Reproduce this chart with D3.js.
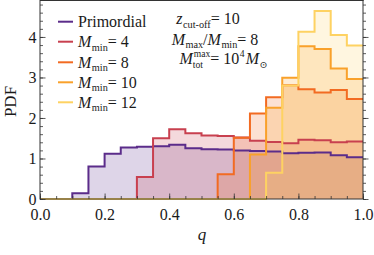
<!DOCTYPE html>
<html>
<head>
<meta charset="utf-8">
<script src="https://cdn.jsdelivr.net/npm/d3@7"></script>
<style>
html,body{margin:0;padding:0;background:#fff;}
svg{display:block;}
text{font-family:"Liberation Serif","DejaVu Serif",serif;fill:#1a1a1a;}
</style>
</head>
<body>
<svg id="chart" width="374" height="255"></svg>
<script>
// ---- data (bin width 0.05, bins from 0.0 to 1.0) ----
const binEdges = d3.range(0, 21).map(i => i * 0.05);
const primordial = [0, 0, 0.14, 0.80, 1.12, 1.27, 1.29, 1.30, 1.34, 1.25, 1.23, 1.22, 1.20, 1.185, 1.17, 1.13, 1.14, 1.15, 1.08, 1.03];
const mmin4  = [0, 0, 0, 0, 0, 0, 0.54, 1.50, 1.72, 1.62, 1.57, 1.555, 1.52, 1.44, 1.41, 1.375, 1.46, 1.45, 1.40, 1.42];
const mmin8  = [0, 0, 0, 0, 0, 0, 0, 0, 0, 0, 0, 0.61, 1.51, 2.11, 2.51, 2.81, 2.71, 2.63, 2.69, 2.47];
const mmin10 = [0, 0, 0, 0, 0, 0, 0, 0, 0, 0, 0, 0, 0, 1.10, 2.25, 2.99, 3.77, 3.70, 3.22, 2.96];
const mmin12 = [0, 0, 0, 0, 0, 0, 0, 0, 0, 0, 0, 0, 0, 0, 0.65, 2.80, 4.13, 4.64, 4.05, 3.79];
const seriesNames = ["Primordial", "4", "8", "10", "12"];
const seriesValues = [primordial, mmin4, mmin8, mmin10, mmin12];
const seriesColors = ["#5b2c8a", "#c8404f", "#f26b22", "#f9a12b", "#fed262"];
const xTickValues = [0, 0.2, 0.4, 0.6, 0.8, 1.0];
const xTickLabels = ["0.0", "0.2", "0.4", "0.6", "0.8", "1.0"];
const yTickValues = [0, 1, 2, 3, 4];
const yTickLabels = ["0", "1", "2", "3", "4"];

// ---- layout ----
const svg = d3.select("#chart");
const L = 40, R = 363, T = 0.5, B = 199;
const x = d3.scaleLinear().domain([0, 1]).range([L, R]);
const y = d3.scaleLinear().domain([0, 4.9]).range([B, T]);

const fillG = svg.append("g");
const lineG = svg.append("g");

seriesValues.forEach((vals, si) => {
  const pts = vals.map((v, i) => ({x: binEdges[i], v}));
  pts.push({x: binEdges[vals.length], v: vals[vals.length - 1]});
  const area = d3.area().curve(d3.curveStepAfter)
    .x(d => x(d.x)).y0(y(0)).y1(d => y(d.v));
  const line = d3.line().curve(d3.curveStepAfter)
    .x(d => x(d.x)).y(d => y(d.v));
  fillG.append("path").attr("d", area(pts))
    .attr("fill", seriesColors[si]).attr("fill-opacity", 0.2).attr("stroke", "none");
  lineG.append("path").attr("d", line(pts))
    .attr("fill", "none").attr("stroke", seriesColors[si]).attr("stroke-width", 2)
    .attr("stroke-linejoin", "miter");
});

// ---- axes (inward ticks on all four sides) ----
const frameColor = "#333";
function styleAxis(g) {
  g.select(".domain").remove();
  g.selectAll("line").attr("stroke", frameColor).attr("stroke-width", 0.8);
  g.selectAll("text").attr("fill", "#1a1a1a").style("font-family", '"Liberation Serif",serif').style("font-size", "16px");
}
const xMinor = x.ticks(20);
const yMinor = d3.range(0, 4.9, 0.2);

function addX(axisFn, ty, labels) {
  svg.append("g").attr("transform", `translate(0,${ty})`)
    .call(axisFn(x).tickValues(xMinor).tickSize(ty === B ? -3 : 3).tickFormat(""))
    .call(styleAxis);
  svg.append("g").attr("transform", `translate(0,${ty})`)
    .call(axisFn(x).tickValues(xTickValues).tickSizeInner(ty === B ? -5.5 : 5.5).tickSizeOuter(0).tickPadding(10)
      .tickFormat((d, i) => labels ? xTickLabels[i] : ""))
    .call(styleAxis);
}
function addY(axisFn, tx, labels) {
  svg.append("g").attr("transform", `translate(${tx},0)`)
    .call(axisFn(y).tickValues(yMinor).tickSize(tx === L ? -3 : 3).tickFormat(""))
    .call(styleAxis);
  svg.append("g").attr("transform", `translate(${tx},0)`)
    .call(axisFn(y).tickValues(yTickValues).tickSizeInner(tx === L ? -5.5 : 5.5).tickSizeOuter(0).tickPadding(3.5)
      .tickFormat((d, i) => labels ? yTickLabels[i] : ""))
    .call(styleAxis);
}
addX(d3.axisBottom, B, true);
addX(d3.axisTop, T, false);
addY(d3.axisLeft, L, true);
addY(d3.axisRight, R, false);

svg.append("rect").attr("x", L).attr("y", T).attr("width", R - L).attr("height", B - T)
  .attr("fill", "none").attr("stroke", frameColor).attr("stroke-width", 1);

// ---- axis titles ----
svg.append("text").attr("transform", "translate(16,101.5) rotate(-90)")
  .attr("text-anchor", "middle").style("font-size", "17px").text("PDF");
svg.append("text").attr("x", 202).attr("y", 240).attr("text-anchor", "middle")
  .style("font-size", "17px").style("font-style", "italic").text("q");

// ---- rich text helper: segments laid out left to right, measured in place ----
function rich(parent, xPos, yPos, segs, anchor, size, opts) {
  opts = opts || {};
  const subShift = opts.sub != null ? opts.sub : 3.5;
  const supShift = opts.sup != null ? opts.sup : -5.5;
  const smallScale = opts.scale || 0.64;
  const g = parent.append("g");
  let cx = 0;
  let lastWidth = 0;
  segs.forEach(s => {
    const small = s.sub || s.sup;
    const fs = small ? size * smallScale : size;
    const dy = s.sub ? subShift : (s.sup ? supShift : 0);
    let startX = cx;
    if (s.stack) startX = cx - lastWidth; // place under previous superscript
    const t = g.append("text").attr("x", startX + (s.dx || 0)).attr("y", yPos + dy)
      .style("font-size", fs + "px").style("font-style", s.i ? "italic" : "normal").text(s.t);
    const w = t.node().getComputedTextLength();
    if (s.stack) {
      cx = Math.max(cx, startX + (s.dx || 0) + w);
    } else {
      cx = startX + (s.dx || 0) + w;
    }
    lastWidth = w + (s.dx || 0);
  });
  const total = cx;
  let off = xPos;
  if (anchor === "middle") off = xPos - total / 2;
  g.attr("transform", `translate(${off},0)`);
  return g;
}

// ---- legend ----
const legendRows = [21.7, 41.7, 62.3, 82.3, 102.3];
seriesNames.forEach((name, i) => {
  svg.append("line").attr("x1", 58).attr("x2", 73)
    .attr("y1", legendRows[i]).attr("y2", legendRows[i])
    .attr("stroke", seriesColors[i]).attr("stroke-width", 2);
  if (i === 0) {
    rich(svg, 78, legendRows[i] + 5.5, [{t: name}], "start", 16);
  } else {
    rich(svg, 78, legendRows[i] + 5.5,
      [{t: "M", i: true}, {t: "min", sub: true, dx: 0.5}, {t: " = " + name}], "start", 16);
  }
});

// ---- annotation ----
rich(svg, 208, 24, [{t: "z", i: true}, {t: "cut-off", sub: true, dx: 0.5}, {t: " = 10"}], "middle", 16);
rich(svg, 215, 44.5, [{t: "M", i: true}, {t: "max", sub: true, dx: 0.5}, {t: "/"}, {t: "M", i: true}, {t: "min", sub: true, dx: 0.5}, {t: " = 8"}], "middle", 16);
rich(svg, 223.5, 63.5, [{t: "M", i: true}, {t: "max", sup: true, dx: 1}, {t: "tot", sub: true, stack: true, dx: 0}, {t: " = 10"}, {t: "4", sup: true, dx: 0.5}, {t: "M", i: true, dx: 1}, {t: "⊙", sub: true, dx: 0.5}], "middle", 16, {sub: 4.8, sup: -6.3, scale: 0.6});
</script>
</body>
</html>
